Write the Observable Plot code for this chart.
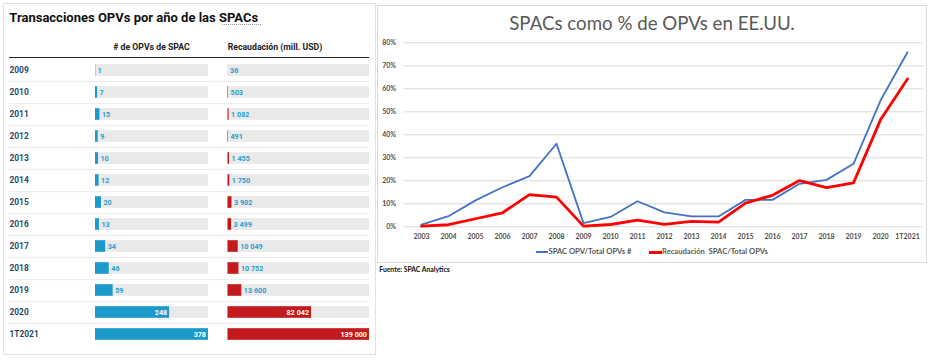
<!DOCTYPE html>
<html><head><meta charset="utf-8">
<script src="https://cdn.jsdelivr.net/npm/d3@7"></script>
<script src="https://cdn.jsdelivr.net/npm/@observablehq/plot@0.6"></script>
<style>
body{margin:0;background:#fff;}
#root{position:relative;width:936px;height:363px;overflow:hidden;}
.t{position:absolute;white-space:pre;line-height:1;}
.box{position:absolute;box-sizing:border-box;}
.plot-abs{position:absolute;}
</style></head><body><div id="root"></div>
<script>
// ---- Left table data ----
const years = ["2009","2010","2011","2012","2013","2014","2015","2016","2017","2018","2019","2020","1T2021"];
const spacCount = [1,7,15,9,10,12,20,13,34,46,59,248,378];
const spacRaised = [36,503,1082,491,1455,1750,3902,3499,10049,10752,13600,82042,139000];

// ---- Right line chart data (% of US IPOs) ----
const lineYears = ["2003","2004","2005","2006","2007","2008","2009","2010","2011","2012","2013","2014","2015","2016","2017","2018","2019","2020","1T2021"];
const shareCount  = [0.9,4.6,11.5,17.2,22.0,36.1,1.6,4.3,11.1,6.3,4.5,4.5,11.7,11.7,18.7,20.4,27.4,54.9,75.9];
const shareRaised = [0.3,0.9,3.5,6.1,14.0,12.9,0.3,1.0,2.9,1.1,2.4,2.0,10.3,13.7,20.1,17.0,19.1,46.5,64.3];
const yTicks = [0,10,20,30,40,50,60,70,80];

const BLUE = "#1b9acb", RED = "#c21a1d", LBLUE = "#27a0d2", YEARC = "#1e4b6b";
const root = document.getElementById("root");
function txt(s, x, y, css, anchor) {
  const d = document.createElement("div");
  d.className = "t"; d.textContent = s;
  d.style.left = x + "px"; d.style.top = y + "px";
  d.style.transform = anchor === "middle" ? "translate(-50%,-50%)" : "translate(0,-50%)";
  Object.assign(d.style, css);
  root.appendChild(d);
}
function box(x, y, w, h, css) {
  const d = document.createElement("div");
  d.className = "box";
  Object.assign(d.style, {left: x + "px", top: y + "px", width: w + "px", height: h + "px"}, css);
  root.appendChild(d);
}

// Panels
box(3, 3, 373, 352, {border: "1px solid #e2e2e2"});
box(377, 5, 550, 258, {border: "1px solid #d9d9d9"});

// Left header
txt("Transacciones OPVs por año de las SPACs", 9.3, 16.8, {fontFamily: "Roboto", fontWeight: "700", fontSize: "13px", color: "#111"});
box(222, 23.8, 39, 1, {borderBottom: "1px dotted #999"});
txt("# de OPVs de SPAC", 151.5, 46.7, {fontFamily: "Roboto", fontWeight: "700", fontSize: "8.7px", color: "#222"}, "middle");
txt("Recaudación (mill. USD)", 227.7, 46.7, {fontFamily: "Roboto", fontWeight: "700", fontSize: "8.7px", color: "#222"});
box(9, 56.6, 360, 1.5, {background: "#222"});

const rows = years.map((year, i) => ({year, count: spacCount[i], raised: spacRaised[i]}));
const fmt = d3.formatLocale({decimal: ",", thousands: " ", grouping: [3], currency: ["", ""]}).format(",d");
const maxCount = d3.max(spacCount), maxRaised = d3.max(spacRaised);
const step = 22.125, inset = 5.2;
const yScale = {type: "band", domain: years, range: [1.6, 1.6 + step * years.length], padding: 0, axis: null};
const common = {width: 360, height: 292, marginLeft: 0, marginRight: 0, marginTop: 0, marginBottom: 0,
  style: {background: "transparent", fontFamily: "Roboto", overflow: "visible"}};

const p1 = Plot.plot({
  ...common,
  x: {domain: [0, maxCount], range: [86, 199], axis: null},
  y: yScale,
  marks: [
    Plot.ruleY(rows.slice(0, -1), {y: "year", dy: step / 2, stroke: "#ececec", strokeWidth: 1}),
    Plot.text(rows, {y: "year", text: "year", frameAnchor: "left", textAnchor: "start", fill: YEARC, fontWeight: "bold", fontSize: 8.4}),
    Plot.barX(rows, {x1: 0, x2: maxCount, y: "year", fill: "#e9e9e9", insetTop: inset, insetBottom: inset}),
    Plot.barX(rows, {x1: 0, x2: "count", y: "year", fill: BLUE, insetTop: inset, insetBottom: inset}),
    Plot.text(rows.filter(d => d.count / maxCount < 0.4), {x: "count", y: "year", text: d => fmt(d.count), textAnchor: "start", dx: 2, fill: LBLUE, fontWeight: "bold", fontSize: 7.2}),
    Plot.text(rows.filter(d => d.count / maxCount >= 0.4), {x: "count", y: "year", text: d => fmt(d.count), textAnchor: "end", dx: -2.5, fill: "#fff", fontWeight: "bold", fontSize: 7.2})
  ]
});
const p2 = Plot.plot({
  ...common,
  x: {domain: [0, maxRaised], range: [218.5, 360], axis: null},
  y: yScale,
  marks: [
    Plot.barX(rows, {x1: 0, x2: maxRaised, y: "year", fill: "#e9e9e9", insetTop: inset, insetBottom: inset}),
    Plot.barX(rows, {x1: 0, x2: "raised", y: "year", fill: RED, insetTop: inset, insetBottom: inset}),
    Plot.text(rows.filter(d => d.raised / maxRaised < 0.4), {x: "raised", y: "year", text: d => fmt(d.raised), textAnchor: "start", dx: 2, fill: LBLUE, fontWeight: "bold", fontSize: 7.2}),
    Plot.text(rows.filter(d => d.raised / maxRaised >= 0.4), {x: "raised", y: "year", text: d => fmt(d.raised), textAnchor: "end", dx: -2.5, fill: "#fff", fontWeight: "bold", fontSize: 7.2})
  ]
});
for (const p of [p1, p2]) {
  p.classList.add("plot-abs");
  p.style.left = "9px"; p.style.top = "56.5px";
  root.appendChild(p);
}

// ---- Right chart ----
txt("SPACs como % de OPVs en EE.UU.", 652, 22.7, {fontFamily: "Lato", fontWeight: "400", fontSize: "18.7px", color: "#595959"}, "middle");
const lineData = lineYears.map((year, i) => ({year, count: shareCount[i], raised: shareRaised[i]}));
const p3 = Plot.plot({
  width: 550, height: 215, marginLeft: 26.5, marginRight: 3.5, marginTop: 7.3, marginBottom: 23.7,
  x: {type: "point", domain: lineYears, padding: 0.5},
  y: {domain: [0, 80]},
  style: {background: "transparent", fontFamily: "Lato", fontSize: "7px", color: "#505050", overflow: "visible"},
  marks: [
    Plot.gridY(yTicks, {stroke: "#d9d9d9", strokeOpacity: 1, strokeWidth: 1}),
    Plot.axisY(yTicks, {tickSize: 0, tickPadding: 8, tickFormat: d => d + "%", fontWeight: "bold", label: null}),
    Plot.axisX({tickSize: 0, tickPadding: 7, fontWeight: "bold", label: null}),
    Plot.line(lineData, {x: "year", y: "count", stroke: "#4472c4", strokeWidth: 1.8}),
    Plot.line(lineData, {x: "year", y: "raised", stroke: "#ff0000", strokeWidth: 2.8})
  ]
});
p3.classList.add("plot-abs");
p3.style.left = "377px"; p3.style.top = "35px";
root.appendChild(p3);

// Legend
box(535.7, 251.3, 12.6, 2, {background: "#4472c4"});
txt("SPAC OPV/Total OPVs #", 548.5, 252.3, {fontFamily: "Lato", fontWeight: "700", fontSize: "7.6px", color: "#595959"});
box(649, 250.8, 12.7, 3, {background: "#ff0000"});
txt("Recaudación  SPAC/Total OPVs", 662, 252.3, {fontFamily: "Lato", fontWeight: "700", fontSize: "7.6px", color: "#595959"});
txt("Fuente: SPAC Analytics", 379.3, 269.3, {fontFamily: "Lato", fontWeight: "700", fontSize: "6.8px", color: "#111"});
</script></body></html>
